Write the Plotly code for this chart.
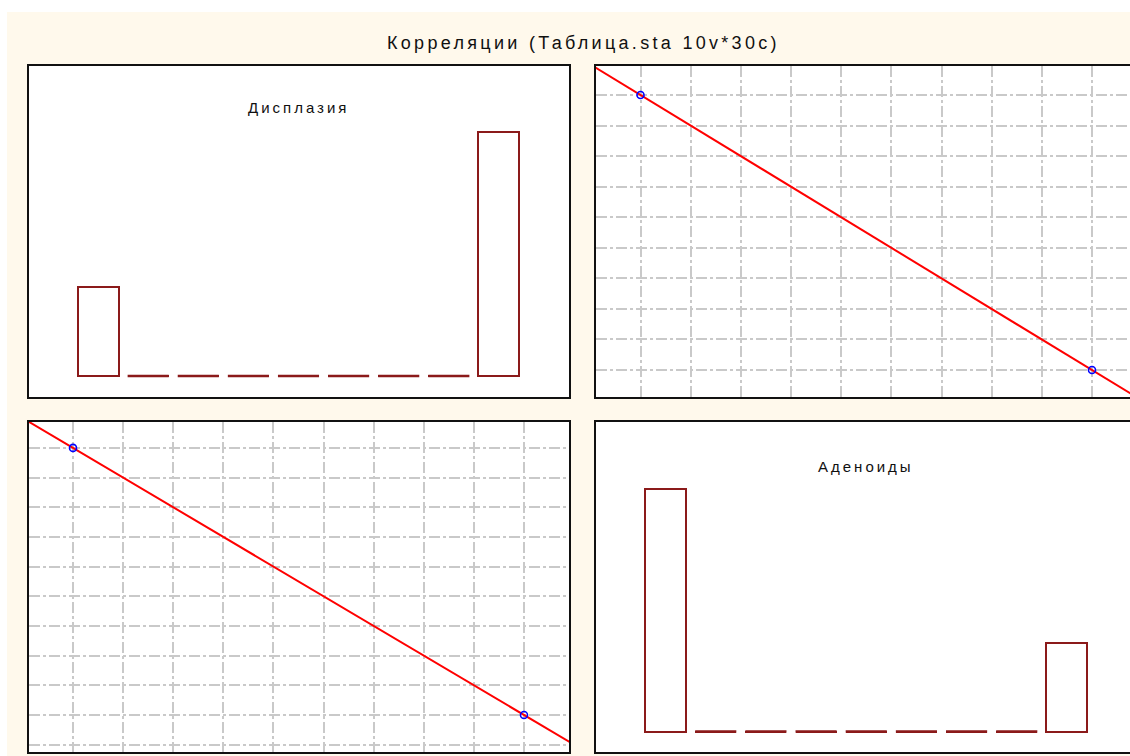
import numpy as np
import plotly.graph_objects as go

# ---- data -------------------------------------------------------------
variables = ["Дисплазия", "Аденоиды"]
n_bins = 9
# histogram counts over 9 equal bins of [0, 1]
counts_displasia = [8, 0, 0, 0, 0, 0, 0, 0, 22]
counts_adenoids = [22, 0, 0, 0, 0, 0, 0, 0, 8]
# distinct (Дисплазия, Аденоиды) observations
pts_displasia = [0, 1]
pts_adenoids = [1, 0]

title_text = "Корреляции (Таблица.sta 10v*30c)"

# ---- styling ----------------------------------------------------------
W, H = 1130, 756
CREAM = "#FFF9EC"
BAR = "#8B1A1A"
GRID = "#C9C9C9"
FONT = "Liberation Sans, Arial, sans-serif"


def px_x(p):
    return p / W


def px_y(p):
    return 1 - p / H


# plot areas in pixels
col_px = [(29, 569), (596, 1130)]
row_px = [(66, 397), (422, 752)]

fig = go.Figure()

bin_w = 1.0 / n_bins
centers = [(k + 0.5) * bin_w for k in range(n_bins)]
bar_w = 0.82 * bin_w


def add_hist(counts, ax):
    xa, ya = ax
    fig.add_trace(go.Bar(
        x=centers, y=counts, width=bar_w,
        marker=dict(color="white", line=dict(color=BAR, width=2)),
        xaxis=xa, yaxis=ya, showlegend=False, hoverinfo="skip",
    ))
    # empty bins are shown as a short stroke on the baseline
    xs, ys = [], []
    for c, v in zip(centers, counts):
        if v == 0:
            xs += [c - bar_w / 2, c + bar_w / 2, None]
            ys += [0, 0, None]
    fig.add_trace(go.Scatter(
        x=xs, y=ys, mode="lines", line=dict(color=BAR, width=2.5),
        xaxis=xa, yaxis=ya, showlegend=False, hoverinfo="skip",
    ))


def add_scatter(xv, yv, ax, xr):
    xa, ya = ax
    slope, icpt = np.polyfit(xv, yv, 1)
    lx = np.array([xr[0] - 0.05, xr[1] + 0.05])
    fig.add_trace(go.Scatter(
        x=lx, y=slope * lx + icpt, mode="lines",
        line=dict(color="#FF0000", width=2),
        xaxis=xa, yaxis=ya, showlegend=False, hoverinfo="skip",
    ))
    fig.add_trace(go.Scatter(
        x=xv, y=yv, mode="markers",
        marker=dict(symbol="circle-open", size=7, color="#0000FF",
                    line=dict(width=1.6, color="#0000FF")),
        xaxis=xa, yaxis=ya, showlegend=False, hoverinfo="skip",
    ))


# x ranges per column (value 0/1 positions fixed by the pixel layout)
xr_col = [(-0.09756, 1.09978), (-0.09856, 1.08416)]
yr_hist = [(-1.894, 27.95), (-1.857, 28.03)]
yr_scat = [(-0.098, 1.1055), (-0.1386, 1.097)]

add_hist(counts_displasia, ("x", "y"))
add_scatter(pts_adenoids, pts_displasia, ("x2", "y2"), xr_col[1])
add_scatter(pts_displasia, pts_adenoids, ("x3", "y3"), xr_col[0])
add_hist(counts_adenoids, ("x4", "y4"))

layout_axes = {}
panels = [
    # (axis suffix, col, row, kind)
    ("", 0, 0, "hist"),
    ("2", 1, 0, "scat"),
    ("3", 0, 1, "scat"),
    ("4", 1, 1, "hist"),
]
for suf, c, r, kind in panels:
    x0, x1 = col_px[c]
    y0, y1 = row_px[r]
    grid = kind == "scat"
    xax = dict(
        domain=[px_x(x0), px_x(x1)], range=list(xr_col[c]),
        showticklabels=False, ticks="", zeroline=False, showline=False,
        showgrid=grid, gridcolor=GRID, gridwidth=1.6,
        griddash="11px,3px,3px,3px", tick0=0, dtick=1.0 / n_bins,
        anchor="y" + suf, fixedrange=True,
    )
    yax = dict(
        domain=[px_y(y1), px_y(y0)],
        range=list(yr_scat[r] if grid else yr_hist[r]),
        showticklabels=False, ticks="", zeroline=False, showline=False,
        showgrid=grid, gridcolor=GRID, gridwidth=1.6,
        griddash="11px,3px,3px,3px", tick0=0, dtick=1.0 / n_bins,
        anchor="x" + suf, fixedrange=True,
    )
    layout_axes["xaxis" + suf] = xax
    layout_axes["yaxis" + suf] = yax

shapes = [
    # white margins above and left of the cream page
    dict(type="rect", xref="paper", yref="paper", layer="below",
         x0=-0.01, x1=1.01, y0=px_y(12), y1=1.01,
         fillcolor="white", line=dict(width=0)),
    dict(type="rect", xref="paper", yref="paper", layer="below",
         x0=-0.01, x1=px_x(7), y0=-0.01, y1=1.01,
         fillcolor="white", line=dict(width=0)),
]
# panel frames
frames = [
    (28, 570, 65, 398),
    (595, 1137, 65, 398),
    (28, 570, 421, 753),
    (595, 1137, 421, 753),
]
for fx0, fx1, fy0, fy1 in frames:
    shapes.append(dict(type="rect", xref="paper", yref="paper", layer="above",
                       x0=px_x(fx0), x1=px_x(fx1), y0=px_y(fy1), y1=px_y(fy0),
                       line=dict(color="#111111", width=2)))

annotations = [
    dict(text='<span style="letter-spacing:3.3px">' + title_text + "</span>",
         xref="paper", yref="paper", x=px_x(583), y=px_y(43),
         xanchor="center", yanchor="middle", showarrow=False,
         font=dict(family=FONT, size=18, color="#101010")),
    dict(text='<span style="letter-spacing:3px">' + variables[0] + "</span>",
         xref="paper", yref="paper", x=px_x(298), y=px_y(108),
         xanchor="center", yanchor="middle", showarrow=False,
         font=dict(family=FONT, size=15, color="#101010")),
    dict(text='<span style="letter-spacing:3px">' + variables[1] + "</span>",
         xref="paper", yref="paper", x=px_x(866), y=px_y(466),
         xanchor="center", yanchor="middle", showarrow=False,
         font=dict(family=FONT, size=15, color="#101010")),
]

fig.update_layout(
    width=W, height=H,
    margin=dict(l=0, r=0, t=0, b=0, pad=0),
    paper_bgcolor=CREAM, plot_bgcolor="white",
    showlegend=False, bargap=0,
    shapes=shapes, annotations=annotations,
    **layout_axes,
)

fig.write_html("out.html", config={"displayModeBar": False})
